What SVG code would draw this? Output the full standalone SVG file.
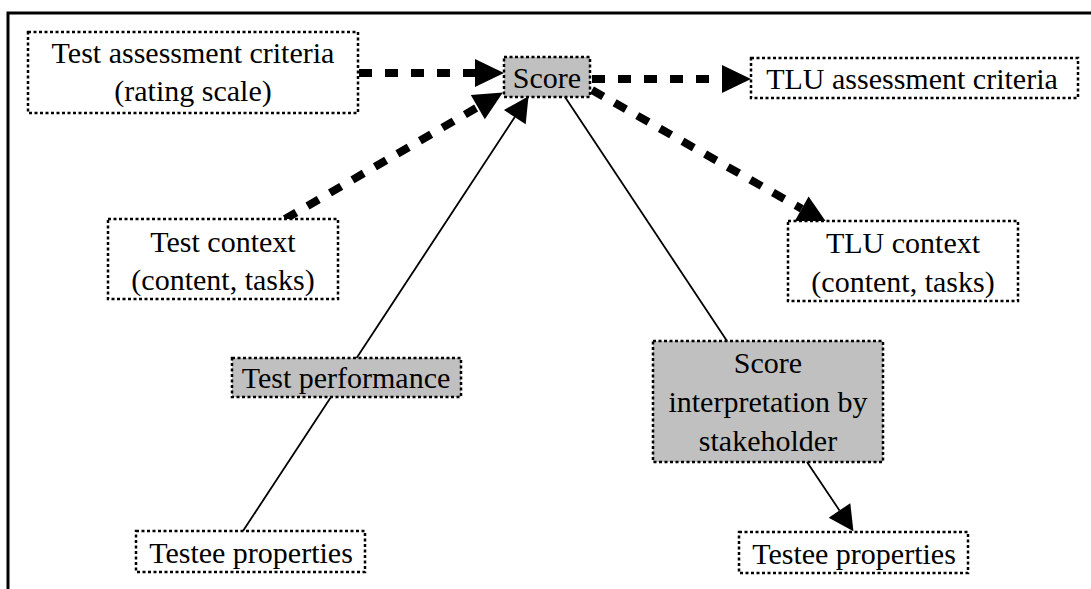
<svg xmlns="http://www.w3.org/2000/svg" width="1091" height="589" viewBox="0 0 1091 589">
<style>
.box{fill:#fff;stroke:#000;stroke-width:2.5;stroke-dasharray:3 2.5}
.grey{fill:#c0c0c0}
text{font-family:'Liberation Serif',serif;font-size:30px;fill:#000;text-anchor:middle}
.thick{fill:none;stroke:#000;stroke-width:8;stroke-dasharray:13 13}
.thin{fill:none;stroke:#000;stroke-width:1.8}
</style>
<defs>
<marker id="big" markerUnits="userSpaceOnUse" viewBox="0 0 30 30" markerWidth="30" markerHeight="30" refX="0" refY="14" orient="auto" overflow="visible">
<path d="M0,0 L29,14 L0,28 z" fill="#000" stroke="none"/>
</marker>
<marker id="small" markerUnits="userSpaceOnUse" viewBox="0 0 30 30" markerWidth="30" markerHeight="30" refX="0" refY="13" orient="auto" overflow="visible">
<path d="M0,0 L25,13 L0,26 z" fill="#000" stroke="none"/>
</marker>
</defs>
<rect x="0" y="0" width="1091" height="589" fill="#fff"/>
<path d="M8,589 L8,13 L1091,13" fill="none" stroke="#000" stroke-width="3"/>

<g id="connectors">
<line class="thick" x1="359" y1="73" x2="475" y2="73" marker-end="url(#big)"/>
<line class="thick" x1="592" y1="79" x2="722" y2="79" marker-end="url(#big)"/>
<line class="thick" x1="285" y1="219" x2="477.8" y2="107.1" marker-end="url(#big)"/>
<line class="thick" x1="592" y1="90" x2="801.7" y2="208.8" marker-end="url(#big)"/>
<line class="thin" x1="243" y1="531" x2="514.8" y2="117.1" marker-end="url(#small)"/>
<line class="thin" x1="565" y1="97" x2="727" y2="341"/>
<line class="thin" x1="807" y1="462" x2="839.5" y2="510.4" marker-end="url(#small)"/>
</g>

<g id="test-assessment-criteria">
<rect class="box" x="28" y="32" width="330" height="81"/>
<text x="193" y="63" font-family="Liberation Serif, serif">Test assessment criteria</text>
<text x="193" y="101" font-family="Liberation Serif, serif">(rating scale)</text>
</g>
<g id="score">
<rect class="box grey" x="504" y="57" width="86" height="40"/>
<text x="547" y="88" font-family="Liberation Serif, serif">Score</text>
</g>
<g id="tlu-assessment-criteria">
<rect class="box" x="751" y="58" width="327" height="40"/>
<text x="912" y="89" font-family="Liberation Serif, serif">TLU assessment criteria</text>
</g>
<g id="test-context">
<rect class="box" x="108" y="219" width="230" height="80"/>
<text x="223" y="252" font-family="Liberation Serif, serif">Test context</text>
<text x="223" y="290" font-family="Liberation Serif, serif">(content, tasks)</text>
</g>
<g id="tlu-context">
<rect class="box" x="788" y="221" width="230" height="80"/>
<text x="903" y="253" font-family="Liberation Serif, serif">TLU context</text>
<text x="903" y="292" font-family="Liberation Serif, serif">(content, tasks)</text>
</g>
<g id="test-performance">
<rect class="box grey" x="232" y="358" width="229" height="39"/>
<text x="346" y="388" font-family="Liberation Serif, serif">Test performance</text>
</g>
<g id="score-interpretation">
<rect class="box grey" x="653" y="341" width="230" height="121"/>
<text x="768" y="373" font-family="Liberation Serif, serif">Score</text>
<text x="768" y="412" font-family="Liberation Serif, serif">interpretation by</text>
<text x="768" y="451" font-family="Liberation Serif, serif">stakeholder</text>
</g>
<g id="testee-properties-left">
<rect class="box" x="136" y="531" width="229" height="41"/>
<text x="251" y="563" font-family="Liberation Serif, serif">Testee properties</text>
</g>
<g id="testee-properties-right">
<rect class="box" x="739" y="532" width="229" height="41"/>
<text x="854" y="564" font-family="Liberation Serif, serif">Testee properties</text>
</g>
</svg>
